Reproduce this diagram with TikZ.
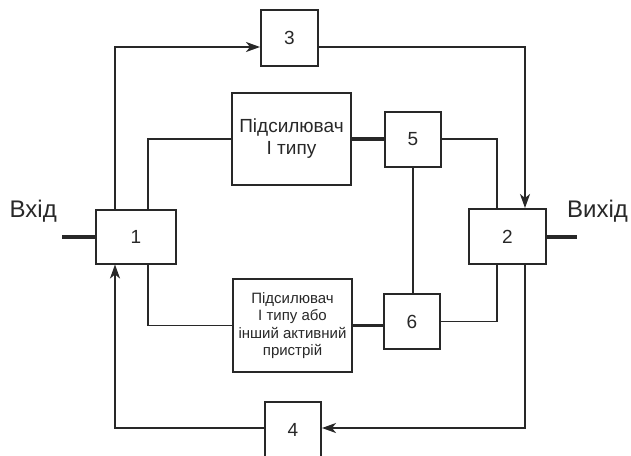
\documentclass[tikz,border=0pt]{standalone}
\usepackage{fontspec}
\setmainfont{Liberation Sans}
\usetikzlibrary{arrows.meta}
\definecolor{lc}{RGB}{40,40,40}
\tikzset{
  box/.style={draw=lc, line width=2pt, inner sep=0pt, align=center, text=lc, font=\fontsize{19}{22}\selectfont},
  ln/.style={draw=lc, line width=1.8pt},
  thk/.style={draw=lc, line width=3.5pt},
  arr/.style={ln, -{Stealth[length=14pt, width=10pt, inset=4pt]}},
  lbl/.style={text=lc, font=\fontsize{24}{28}\selectfont, inner sep=0pt}
}
\begin{document}
\begin{tikzpicture}[x=1pt,y=-1pt]
\useasboundingbox[fill=white] (0,0) rectangle (631,455);
\node[box, minimum width=80, minimum height=54] (b1) at (136,236.5) {1};
\node[box, minimum width=77, minimum height=55] (b2) at (507.5,236.5) {2};
\node[box, minimum width=57, minimum height=56] (b3) at (289.5,38) {3};
\node[box, minimum width=56, minimum height=56] (b4) at (293,430) {4};
\node[box, minimum width=56, minimum height=55] (b5) at (413,139) {5};
\node[box, minimum width=56, minimum height=55] (b6) at (412,321.5) {6};
\node[box, minimum width=119, minimum height=92, font=\fontsize{19}{22}\selectfont] (a1) at (291.5,139) {Підсилювач\\І типу};
\node[box, minimum width=119, minimum height=93, font=\fontsize{15}{17.5}\selectfont] (a2) at (292.5,325.5) {Підсилювач\\І типу або\\інший активний\\пристрій};
\node[lbl, anchor=base east] (vin) at (57,217) {Вхід};
\node[lbl, anchor=base] (vout) at (597.5,217) {Вихід};
\coordinate (in) at (62,237);
\coordinate (out) at (577,237);
% input / output
\draw[thk] (in) -- (in -| b1.west);
\draw[thk] (b2.east |- out) -- (out);
% to box 3 and from it
\draw[arr] (b1.north -| 115,0) |- (b3.west |- 0,47);
\draw[arr] (b3.east |- 0,47) -| (b2.north -| 525,0);
% upper amplifier branch
\draw[ln] (b1.north -| 148,0) |- (a1.west);
\draw[thk] (a1.east) -- (a1.east -| b5.west);
\draw[ln] (b5.east) -| (b2.north -| 497,0);
% link 5-6
\draw[ln] (b5.south) -- (b5.south |- b6.north);
% lower amplifier branch
\draw[ln] (b1.south -| 148,0) |- (a2.west);
\draw[thk] (a2.east) -- (a2.east -| b6.west);
\draw[ln] (b6.east) -| (b2.south -| 497,0);
% feedback via 4
\draw[arr] (b2.south -| 525,0) |- (b4.east |- 0,428);
\draw[arr] (b4.west |- 0,428) -| (b1.south -| 115,0);
\end{tikzpicture}
\end{document}
